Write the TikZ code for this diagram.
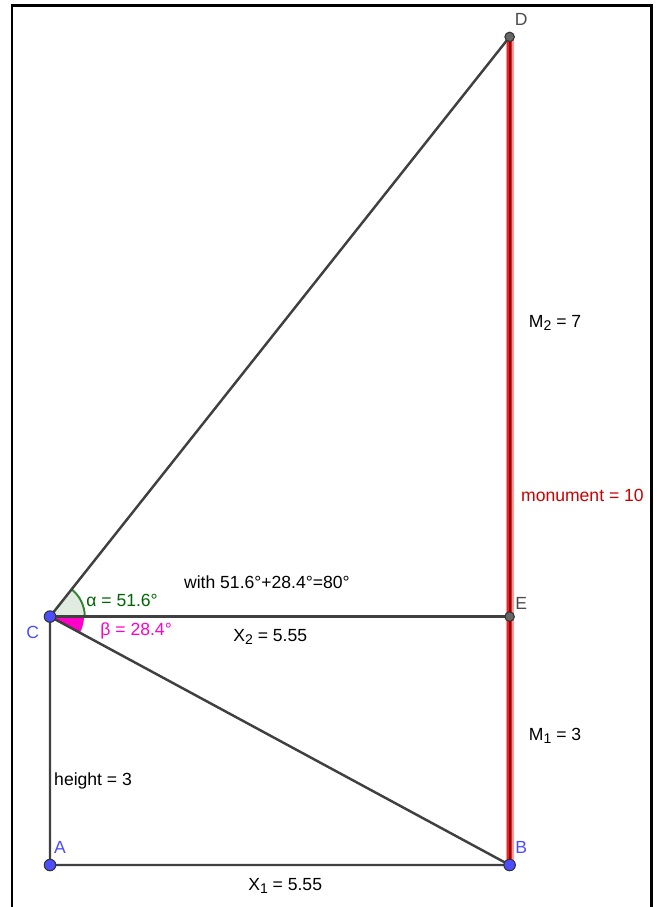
\documentclass[tikz,border=0pt]{standalone}
\usepackage{fontspec}
\setmainfont{Liberation Sans}
\usepackage{tikz}
\usetikzlibrary{arrows.meta,positioning,calc}

\definecolor{ggblue}{RGB}{77,77,255}
\definecolor{ggline}{RGB}{64,64,64}
\definecolor{gggreen}{RGB}{0,100,0}
\definecolor{ggpink}{RGB}{255,0,200}
\definecolor{ggred}{RGB}{204,0,0}

\begin{document}
\begin{tikzpicture}[scale=1.656,
		font=\fontsize{10}{12}\selectfont,
		seg/.style={ggline, line width=1.4pt},
		bluept/.style={circle, draw=black!80, fill=ggblue, line width=0.6pt, inner sep=0pt, minimum size=0.23cm},
		greypt/.style={circle, draw=black!80, fill=black!60, line width=0.6pt, inner sep=0pt, minimum size=0.19cm},
		lbl/.style={inner sep=1pt}]
			\useasboundingbox (-0.604,-0.507) rectangle (7.343,10.447);
			% frame
			\draw[line width=1.7pt] (-0.459,-0.507) -- (-0.459,10.386) -- (7.27,10.386) -- (7.27,-0.507);
			
			% points
			\coordinate (A) at (0,0);
			\coordinate (B) at (5.55,0);
			\coordinate (C) at (0,3);
			\coordinate (E) at (5.55,3);
			\coordinate (D) at (5.55,10);
			
			% angle sectors at C
			\fill[gggreen!12] (C) -- ++(0:0.42) arc (0:51.6:0.42) -- cycle;
			\draw[gggreen!80, line width=1.1pt] ($(C)+(0:0.42)$) arc (0:51.6:0.42);
			\fill[ggpink] (C) -- ++(0:0.41) arc (0:-28.4:0.41) -- cycle;
			
			% monument
			\draw[red!40, line width=4.6pt] (B) -- (D);
			\draw[red!90, line width=3pt] (B) -- (D);
			\draw[red!45!black, line width=1pt] (B) -- (D);
			
			% triangles
			\draw[seg] (C) -- (A) -- (B) -- (C);
			\draw[seg] (C) -- (E);
			\draw[seg] (C) -- (D);
			
			\node[greypt] (pD) at (D) {};
			\node[greypt] (pE) at (E) {};
			\node[bluept] (pA) at (A) {};
			\node[bluept] (pB) at (B) {};
			\node[bluept] (pC) at (C) {};
			
			% point labels
			\node[lbl, black!70] (lD) at (5.69,10.21) {D};
			\node[lbl, black!70] (lE) at (5.69,3.16) {E};
			\node[lbl, ggblue] (lB) at (5.69,0.21) {B};
			\node[lbl, ggblue] (lA) at (0.12,0.21) {A};
			\node[lbl, ggblue] (lC) at (-0.21,2.81) {C};
			
			% lengths
			\node[lbl] (m2) at (6.10,6.55) {M\raisebox{-0.35ex}{\fontsize{8}{9}\selectfont 2} = 7};
			\node[lbl, ggred] (mon) at (6.43,4.46) {monument = 10};
			\node[lbl] (m1) at (6.10,1.56) {M\raisebox{-0.35ex}{\fontsize{8}{9}\selectfont 1} = 3};
			\node[lbl] (h) at (0.52,1.01) {height = 3};
			\node[lbl] (x1) at (2.84,-0.25) {X\raisebox{-0.35ex}{\fontsize{8}{9}\selectfont 1} = 5.55};
			\node[lbl] (x2) at (2.66,2.75) {X\raisebox{-0.35ex}{\fontsize{8}{9}\selectfont 2} = 5.55};
			\node[lbl] (sum) at (2.62,3.41) {with 51.6°+28.4°=80°};
			
			% angles
			\node[lbl, gggreen] (alpha) at (0.87,3.19) {α = 51.6°};
			\node[lbl, ggpink] (beta) at (1.04,2.83) {β = 28.4°};
		\end{tikzpicture}
\end{document}
